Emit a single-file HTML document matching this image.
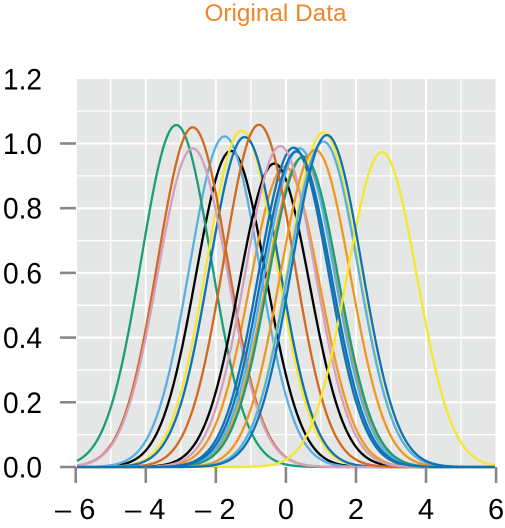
<!DOCTYPE html>
<html>
<head>
<meta charset="utf-8">
<title>Original Data</title>
<style>
html,body{margin:0;padding:0;background:#fff;}
svg{display:block;}
text{font-family:"Liberation Sans",sans-serif;}
</style>
</head>
<body>
<svg id="chart" width="505" height="528" viewBox="0 0 505 528" xmlns="http://www.w3.org/2000/svg">
<text x="275.5" y="21" text-anchor="middle" font-size="24" fill="#f0862a" textLength="142" lengthAdjust="spacingAndGlyphs">Original Data</text>
<rect x="77" y="79" width="418.5" height="388" fill="#e5e6e6"/>
<g id="grid"></g>
<g id="curves"></g>
<g id="axes"></g>
</svg>
<script>
// Values: one entry per curve, in drawing order.
const curveMeans = [-1.57,-0.03,-1.75,-3.13,-1.26,-1.18,-2.66,-2.66,-0.33,0.45,0.39,0.50,1.07,0.22,-0.77,-0.16,0.84,1.07,2.74,0.30,1.17];
const curvePeaks = [0.977,0.928,1.022,1.057,1.040,1.020,1.050,0.985,0.938,0.955,0.985,0.960,1.035,0.987,1.058,0.992,0.980,1.006,0.973,0.975,1.026];
const curveSpread = [1,1,1,1,1,1,1,1,1,1,1,1,1,1,1,1,1,1,1,1,1];
const curveColors = ['#000000','#ee9722','#56b0e6','#1b9e77','#f4e72e','#0f72b5','#d2691f','#d3a0bd','#000000','#ee9722','#56b0e6','#1b9e77','#f4e72e','#0f72b5','#d2691f','#d3a0bd','#ee9722','#56b0e6','#f4e72e','#0f72b5','#0f72b5'];
const xTicks = [-6,-4,-2,0,2,4,6];
const xMinorGrid = [-5,-3,-1,1,3,5];
const yTicks = [0,0.2,0.4,0.6,0.8,1.0,1.2];
const yMarkedTicks = [0,0.2,0.4,0.6,0.8,1.0];
const yMinorGrid = [0.1,0.3,0.5,0.7,0.9,1.1];

const NS = 'http://www.w3.org/2000/svg';
const xScale = v => 285.9 + v * 35.03;
const yScale = v => 467 - v * 323.5;
const PANEL_LEFT = 77, PANEL_RIGHT = 495.5, PANEL_TOP = 79, PANEL_BOTTOM = 467;

function make(tag, attrs, parent) {
  const el = document.createElementNS(NS, tag);
  for (const k in attrs) el.setAttribute(k, attrs[k]);
  parent.appendChild(el);
  return el;
}
const gridG = document.getElementById('grid');
const curvesG = document.getElementById('curves');
const axesG = document.getElementById('axes');

xMinorGrid.forEach(v => {
  const el = make('line', {x1: xScale(v), x2: xScale(v), y1: PANEL_TOP, y2: PANEL_BOTTOM, stroke: '#fff', 'stroke-width': 1.3}, gridG);
  
  
});
yMinorGrid.forEach(v => {
  const el = make('line', {x1: PANEL_LEFT, x2: PANEL_RIGHT, y1: yScale(v), y2: yScale(v), stroke: '#fff', 'stroke-width': 1.3}, gridG);
  
  
});
xTicks.slice(1, -1).forEach(v => {
  const el = make('line', {x1: xScale(v), x2: xScale(v), y1: PANEL_TOP, y2: PANEL_BOTTOM, stroke: '#fff', 'stroke-width': 2}, gridG);
  
  
});
yMarkedTicks.forEach(v => {
  const el = make('line', {x1: PANEL_LEFT, x2: PANEL_RIGHT, y1: yScale(v), y2: yScale(v), stroke: '#fff', 'stroke-width': 2}, gridG);
  
  
});

curveMeans.forEach((mean, i) => {
  const pts = [];
  for (let px = PANEL_LEFT; px <= PANEL_RIGHT; px += 1) {
    const v = (px - 285.9) / 35.03;
    const z = (v - mean) / curveSpread[i];
    pts.push(px + ',' + yScale(curvePeaks[i] * Math.exp(-0.5 * z * z)).toFixed(2));
  }
  const el = make('polyline', {points: pts.join(' '), fill: 'none', stroke: curveColors[i], 'stroke-width': 2.3, 'stroke-linejoin': 'round'}, curvesG);
  
  
});

xTicks.forEach(v => {
  const t = make('line', {x1: xScale(v), x2: xScale(v), y1: 467, y2: 483, stroke: '#888', 'stroke-width': 2.6}, axesG);
  
  
  const l = make('text', {x: xScale(v) - (v < 0 ? 0.5 : 0), y: 519, 'text-anchor': 'middle', 'font-size': 29, fill: '#000'}, axesG);
  l.textContent = v < 0 ? '\u2013 ' + Math.abs(v) : String(v);
  
  
});
yMarkedTicks.forEach(v => {
  const t = make('line', {x1: 60, x2: 76, y1: yScale(v), y2: yScale(v), stroke: '#888', 'stroke-width': 2.6}, axesG);
  
  
});
yTicks.forEach(v => {
  const l = make('text', {x: 3, y: yScale(v) + 10.5, 'font-size': 30, fill: '#000', textLength: 39, lengthAdjust: 'spacingAndGlyphs'}, axesG);
  l.textContent = v.toFixed(1);
  
  
});
</script>
</body>
</html>
